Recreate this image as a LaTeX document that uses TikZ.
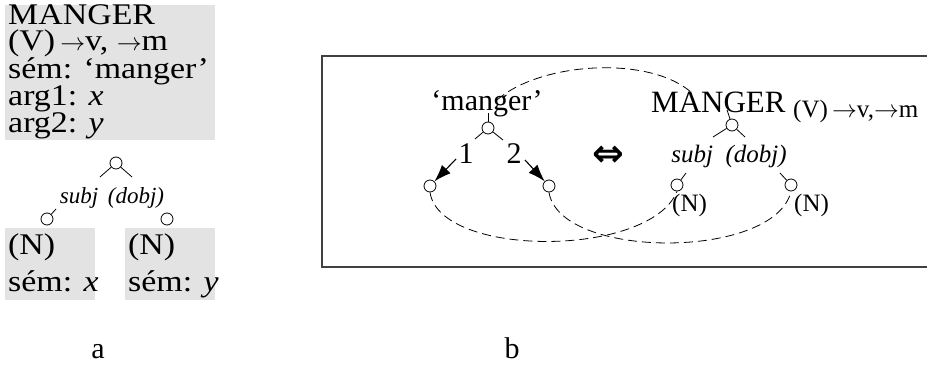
\documentclass[tikz,border=0pt]{standalone}
\usepackage{fontspec}
\setmainfont{Liberation Serif}
\newfontfamily\wide[FakeStretch=1.13]{Liberation Serif}
\newfontfamily\djv{DejaVu Sans}
\usetikzlibrary{arrows.meta}
\definecolor{boxgray}{gray}{0.89}
\newcommand{\rarr}{$\rightarrow$}
\tikzset{
  big/.style={font=\wide\fontsize{30}{26}\selectfont, inner sep=0pt, anchor=base west, align=left},
  tall/.style={font=\wide\fontsize{30}{37}\selectfont, inner sep=0pt, anchor=base west, align=left},
  mid/.style={font=\fontsize{30}{30}\selectfont, inner sep=0pt},
  small/.style={font=\fontsize{25}{25}\selectfont, inner sep=0pt},
  knot/.style={circle, draw, line width=0.8pt, inner sep=0pt, minimum size=12pt},
  stroke/.style={line width=0.8pt},
  link/.style={line width=0.8pt, dash pattern=on 9pt off 5pt},
  fwd/.style={line width=1.1pt, -{Latex[length=17pt,width=12pt]}}
}
\begin{document}
\begin{tikzpicture}[x=1pt,y=-1pt]
\useasboundingbox (0,0) rectangle (927,374);
% ---------- panel a ----------
\fill[boxgray] (5,5) rectangle (215,140);
% base anchor = baseline of the last line
\node[big] (lex) at (8,133) {MANGER\\(V)\,\rarr v, \rarr m\\sém: ‘manger’\\arg1: \textit{x}\\arg2: \textit{y}};

\node[knot] (at) at (116,163) {};
\coordinate (atl) at (100,177);
\coordinate (atr) at (132,177);
\draw[stroke] (at) -- (atl);
\draw[stroke] (at) -- (atr);
\node[small, anchor=base, font=\fontsize{23}{23}\selectfont\itshape] (arel) at (112,204) {subj\ \,(dobj)};
\node[knot] (al) at (47,219) {};
\node[knot] (ar) at (167,219) {};
\coordinate (alt) at (56,209);
\draw[stroke] (alt) -- (al);

\fill[boxgray] (5,228) rectangle (95,300);
\fill[boxgray] (125,228) rectangle (215,300);
\node[tall] (d1) at (8,291) {(N)\\sém: \textit{x}};
\node[tall] (d2) at (128,291) {(N)\\sém: \textit{y}};

\node[mid, anchor=base] (la) at (98,358) {a};
\node[mid, anchor=base] (lb) at (512,358) {b};

% ---------- panel b ----------
\draw[line width=1.3pt, black!75] (927,56) -- (322,56) -- (322,267) -- (927,267);

\node[mid, anchor=base] (sem) at (487,111) {‘manger’};
\node[knot] (st) at (488,128) {};
\coordinate (stu) at (488,113);
\draw[stroke] (st) -- (stu);
\coordinate (stl) at (475,139);
\coordinate (str) at (503,140);
\draw[stroke] (st) -- (stl);
\draw[stroke] (st) -- (str);
\node[mid, anchor=base] (one) at (466,164) {1};
\node[mid, anchor=base] (two) at (514,164) {2};
\node[knot] (sl) at (430,186) {};
\node[knot] (sr) at (549,186) {};
\coordinate (o1) at (456,159);
\coordinate (o2) at (525,160);
\draw[fwd] (o1) -- (sl);
\draw[fwd] (o2) -- (sr);

\node[inner sep=0pt, font=\djv\bfseries\fontsize{38}{38}\selectfont] (eq) at (608,156) {⇔};

\node[mid, anchor=base west, font=\fontsize{31}{31}\selectfont] (M) at (651,113) {MANGER};
\node[small, anchor=base west] (Msub) at (793,118) {(V)\,\rarr v,\rarr m};
\node[knot] (mt) at (732,125) {};
\coordinate (mtu) at (727,110);
\draw[stroke] (mt) -- (mtu);
\coordinate (mtl) at (713,137);
\coordinate (mtr) at (745,137);
\draw[stroke] (mt) -- (mtl);
\draw[stroke] (mt) -- (mtr);
\node[small, anchor=base, font=\fontsize{25}{25}\selectfont\itshape] (mrel) at (729,163) {subj\ \ (dobj)};
\node[knot] (ml) at (677,185) {};
\node[knot] (mr) at (791,185) {};
\coordinate (mlt) at (686,173);
\coordinate (mrt) at (780,173);
\draw[stroke] (mlt) -- (ml);
\draw[stroke] (mrt) -- (mr);
\node[small, anchor=base west] (nl) at (672,212) {(N)};
\node[small, anchor=base west] (nr) at (794,212) {(N)};

% dashed correspondences
\coordinate (semc) at (497,100);
\coordinate (Mc) at (692,93);
\draw[link] (semc) .. controls (540,62) and (650,55) .. (Mc);
\draw[link] (sl.south) .. controls (440,258) and (650,258) .. (ml.south);
\draw[link] (sr.south) .. controls (560,260) and (775,260) .. (mr.south);
\end{tikzpicture}
\end{document}
